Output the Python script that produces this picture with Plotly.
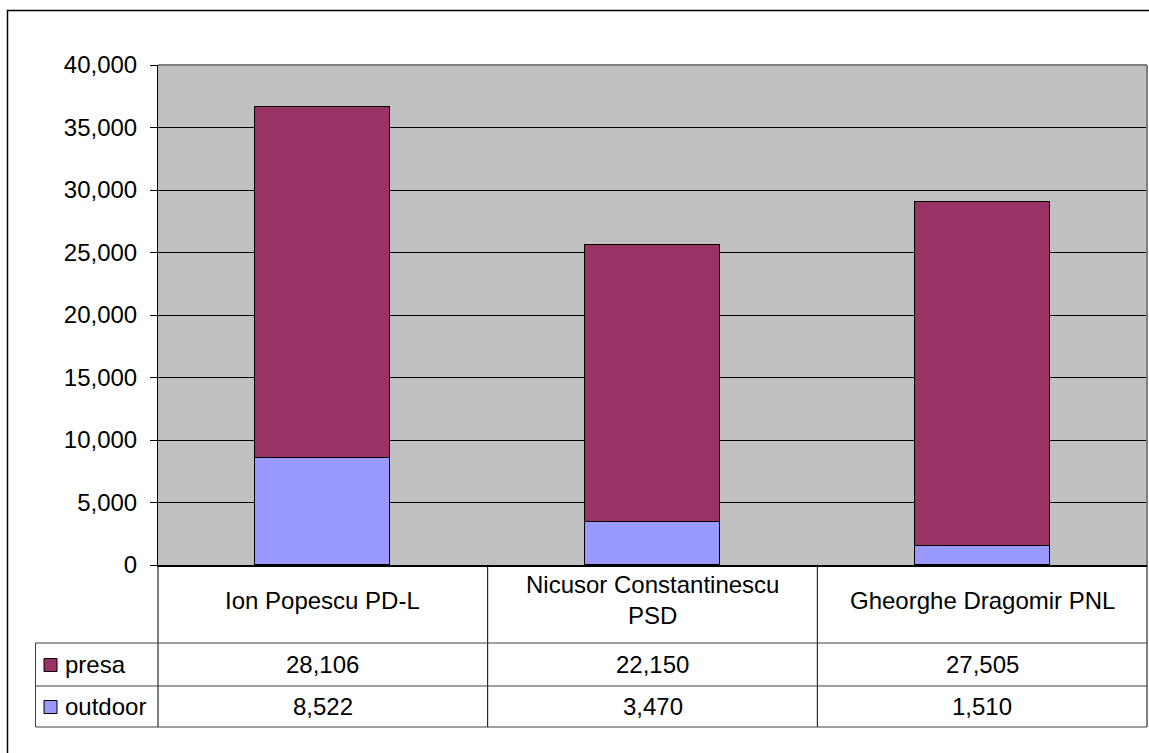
import plotly.graph_objects as go

# ---- data ----
categories = ["Ion Popescu PD-L", "Nicusor Constantinescu<br>PSD", "Gheorghe Dragomir PNL"]
series_names = ["presa", "outdoor"]
presa = [28106, 22150, 27505]
outdoor = [8522, 3470, 1510]
y_ticks = [0, 5000, 10000, 15000, 20000, 25000, 30000, 35000, 40000]

# ---- layout geometry (pixels) ----
W, H = 1149, 753
L, R, T, B = 158, 1147, 65, 565
FONT = "Liberation Sans, Arial, sans-serif"
FS = 24
COLORS = {"presa": "#993366", "outdoor": "#9999FF"}
LINE = "#404040"


def px2x(px):
    return (px - L) / (R - L)


def py2y(py):
    return (B - py) / (B - T)


fig = go.Figure()
for name, vals in [("outdoor", outdoor), ("presa", presa)]:
    fig.add_bar(
        x=categories, y=vals, name=name, width=0.41,
        marker=dict(color=COLORS[name], line=dict(color="black", width=1.5)),
        showlegend=False,
    )

shapes = []
# plot area top / right gray border
shapes.append(dict(type="line", xref="paper", yref="paper", x0=0, x1=1, y0=1, y1=1,
                   line=dict(color="#808080", width=2), layer="above"))
shapes.append(dict(type="line", xref="paper", yref="paper", x0=1, x1=1, y0=0, y1=1,
                   line=dict(color="#808080", width=2), layer="above"))
# outer chart border
shapes.append(dict(type="rect", xref="paper", yref="paper", x0=px2x(7.5), x1=px2x(1160),
                   y0=py2y(770), y1=py2y(10.5), line=dict(color="black", width=1.5),
                   fillcolor="rgba(0,0,0,0)"))

# data table
row_tops = [643, 686]
row_bot = 727
ncat = len(categories)
for i in range(ncat + 1):
    shapes.append(dict(type="line", xref="paper", yref="paper",
                       x0=i / ncat, x1=i / ncat, y0=py2y(B), y1=py2y(row_bot),
                       line=dict(color="black", width=1)))
shapes.append(dict(type="line", xref="paper", yref="paper", x0=px2x(35.5), x1=px2x(35.5),
                   y0=py2y(row_tops[0]), y1=py2y(row_bot), line=dict(color=LINE, width=1)))
for yy in row_tops + [row_bot]:
    shapes.append(dict(type="line", xref="paper", yref="paper", x0=px2x(35.5), x1=1,
                       y0=py2y(yy), y1=py2y(yy), line=dict(color=LINE, width=1)))

annotations = []
for c in categories:
    annotations.append(dict(x=c, xref="x", y=py2y(600), yref="paper", text=c,
                            showarrow=False, xanchor="center", yanchor="middle",
                            font=dict(family=FONT, size=FS, color="black")))

rows = [("presa", presa), ("outdoor", outdoor)]
for r, (name, vals) in enumerate(rows):
    top = row_tops[r]
    bot = row_tops[r + 1] if r + 1 < len(row_tops) else row_bot
    mid = (top + bot) / 2
    shapes.append(dict(type="rect", xref="paper", yref="paper", x0=px2x(44), x1=px2x(57),
                       y0=py2y(mid - 6), y1=py2y(mid + 7), fillcolor=COLORS[name],
                       line=dict(color="black", width=1)))
    annotations.append(dict(x=px2x(63), xref="paper", y=py2y(mid), yref="paper",
                            text=name, showarrow=False, xanchor="left", yanchor="middle",
                            font=dict(family=FONT, size=FS, color="black")))
    for c, v in zip(categories, vals):
        annotations.append(dict(x=c, xref="x", y=py2y(mid), yref="paper",
                                text=f"{v:,}", showarrow=False, xanchor="center",
                                yanchor="middle",
                                font=dict(family=FONT, size=FS, color="black")))

fig.update_layout(
    width=W, height=H,
    margin=dict(l=L, r=W - R, t=T, b=H - B, pad=0),
    barmode="stack",
    bargap=0,
    paper_bgcolor="white",
    plot_bgcolor="#C0C0C0",
    font=dict(family=FONT, size=FS, color="black"),
    shapes=shapes,
    annotations=annotations,
    showlegend=False,
    xaxis=dict(type="category", range=[-0.5, ncat - 0.5], showticklabels=False,
               showline=True, linecolor="black", linewidth=1.5, ticks="",
               showgrid=False, zeroline=False, fixedrange=True),
    yaxis=dict(range=[0, 40000], tickvals=y_ticks, tickformat=",",
               ticks="outside", ticklen=7, tickcolor="black", tickwidth=1,
               showgrid=True, gridcolor="black", gridwidth=1,
               showline=True, linecolor="black", linewidth=1, zeroline=False,
               tickfont=dict(family=FONT, size=FS, color="black"),
               ticklabelstandoff=8, fixedrange=True),
)

fig.write_html(
    "out.html",
    config={"displayModeBar": False},
    post_script="document.body.style.margin='0';document.body.style.overflow='hidden';",
)
